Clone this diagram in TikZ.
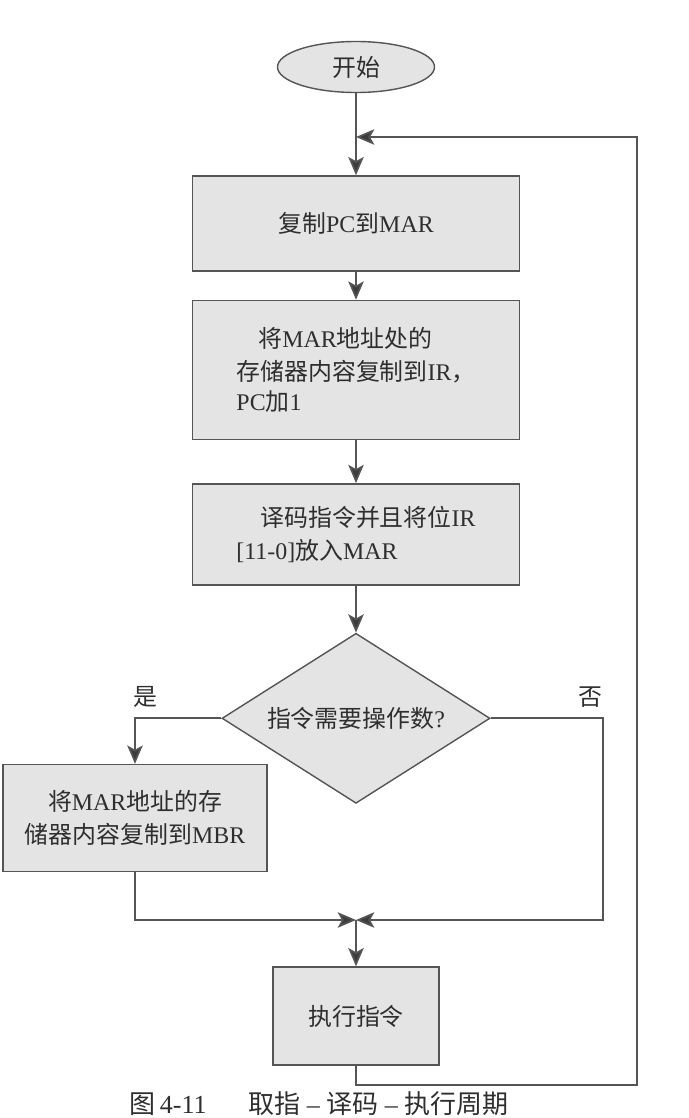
\documentclass[tikz,border=0pt]{standalone}
\usepackage{fontspec}
\setmainfont{Liberation Serif}
\newfontfamily\cjkfont{Noto Sans CJK SC}
\newcommand\zh[1]{{\cjkfont #1}}
\usepackage{xcolor}
\definecolor{inkgray}{HTML}{2E2E2E}
\definecolor{edgegray}{HTML}{555555}
\definecolor{tipgray}{HTML}{3C3C3C}
\definecolor{boxgray}{HTML}{E4E4E4}
\usetikzlibrary{arrows.meta, positioning, shapes.geometric}

\begin{document}
\begin{tikzpicture}[
  x=0.025cm, y=-0.025cm,
  every node/.style={text=inkgray, font=\fontsize{17}{23.5}\selectfont},
  procbox/.style={draw=edgegray, fill=boxgray, line width=1pt,
                  minimum width=8.175cm, inner sep=0pt},
  startnode/.style={ellipse, draw=edgegray, fill=boxgray, line width=1pt,
                    minimum width=3.925cm, minimum height=1.275cm},
  decision/.style={diamond, aspect=1.6, draw=edgegray, fill=boxgray,
                   line width=1pt, minimum width=6.7cm, minimum height=4.25cm,
                   inner sep=0pt},
  arrow/.style={-{Stealth[length=13pt, width=11pt, inset=3pt, fill=tipgray]},
                draw=edgegray, line width=1.2pt}
]
\useasboundingbox (0,0) rectangle (689,1118);

\node[startnode] (start) at (356,67) {\zh{开始}};

\node[procbox, minimum height=2.375cm, below=2.05cm of start] (copypc)
  {\zh{复制}PC\zh{到}MAR};

\node[procbox, minimum height=3.475cm, align=left, below=0.7cm of copypc] (fetch)
  {\hspace*{0.55cm}\zh{将}MAR\zh{地址处的}\\
   \zh{存储器内容复制到}IR\zh{，}\\[-2pt]
   PC\zh{加}1};

\node[procbox, minimum height=2.525cm, align=left, below=1.075cm of fetch] (decode)
  {\hspace*{0.6cm}\zh{译码指令并且将位}IR\\
   {}[11-0]\zh{放入}MAR};

\node[decision, below=1.175cm of decode] (needop) {\zh{指令需要操作数}?};

\node[procbox, minimum width=6.6cm, minimum height=2.675cm, align=center]
  (loadmbr) at (135,818)
  {\zh{将}MAR\zh{地址的存}\\ \zh{储器内容复制到}MBR};

\node[procbox, minimum width=4.15cm, minimum height=2.45cm] (exec) at (356,1016)
  {\zh{执行指令}};

\node (yes) at (145,697) {\zh{是}};
\node (no)  at (590,697) {\zh{否}};

\coordinate (loopin)  at (356,137);
\coordinate (loopout) at (637,1085);
\coordinate (merge)   at (356,920);
\coordinate (noturn)  at (603,920);

\draw[arrow] (start)   -- (copypc);
\draw[arrow] (copypc)  -- (fetch);
\draw[arrow] (fetch)   -- (decode);
\draw[arrow] (decode)  -- (needop);
\draw[arrow] (needop.west) -| (loadmbr.north);
\draw[arrow] (needop.east) -| (noturn) -- (merge);
\draw[arrow] (loadmbr.south) |- (merge);
\draw[arrow] (merge) -- (exec);
\draw[arrow] (exec.south) |- (loopout) |- (loopin);

\node[font=\fontsize{18.5}{22}\selectfont] (caption) at (319,1104)
  {\zh{图}\,4-11\hspace{1.6em}\zh{取指} -- \zh{译码} -- \zh{执行周期}};

\end{tikzpicture}
\end{document}
